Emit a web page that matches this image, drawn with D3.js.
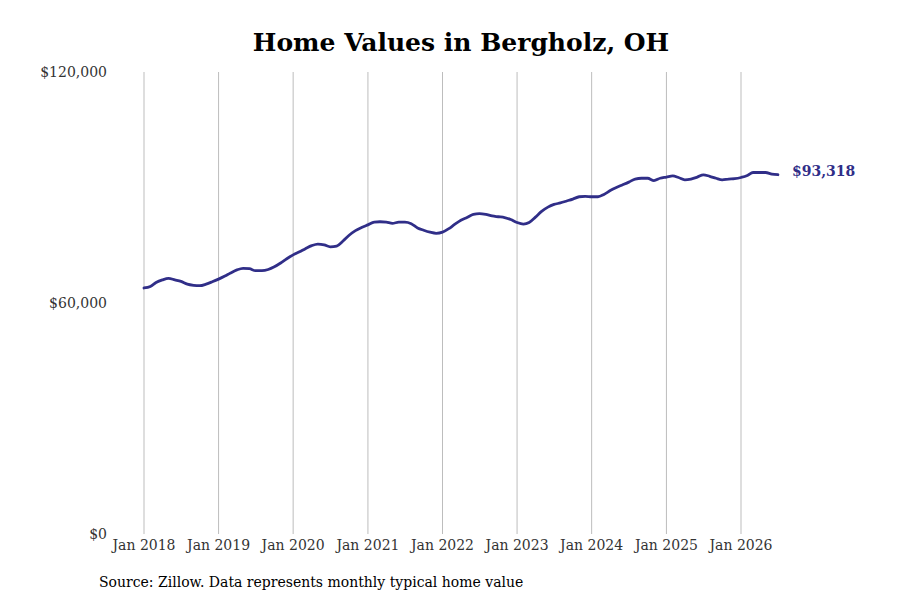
<!DOCTYPE html>
<html>
<head>
<meta charset="utf-8">
<script src="https://cdn.jsdelivr.net/npm/d3@7"></script>
<style>
  body { margin: 0; background: #fff; }
  svg { display: block; }
</style>
</head>
<body>
<svg id="chart" width="900" height="600"></svg>
<script>
// Monthly typical home value (thousands of USD), Jan 2018 – Jul 2026
const startYear = 2018;
const values = [
  63.9, 64.3, 65.3, 66.0, 66.4, 66.0, 65.6, 64.9, 64.6, 64.5, 64.9, 65.5,
  66.2, 67.0, 67.8, 68.6, 69.0, 68.9, 68.4, 68.4, 68.7, 69.4, 70.4, 71.5,
  72.5, 73.3, 74.1, 74.9, 75.3, 75.1, 74.6, 74.8, 76.1, 77.6, 78.8, 79.6,
  80.3, 81.0, 81.1, 81.0, 80.7, 81.0, 81.0, 80.6, 79.5, 78.9, 78.4, 78.1,
  78.4, 79.3, 80.4, 81.5, 82.2, 83.0, 83.2, 83.0, 82.6, 82.4, 82.2, 81.7,
  80.9, 80.5, 80.9, 82.3, 83.8, 84.9, 85.6, 86.0, 86.5, 87.0, 87.6, 87.7,
  87.6, 87.6, 88.2, 89.2, 90.0, 90.7, 91.4, 92.2, 92.4, 92.4, 91.8, 92.4,
  92.7, 93.0, 92.6, 92.0, 92.2, 92.7, 93.3, 92.9, 92.4, 92.0, 92.2, 92.3,
  92.6, 93.1, 93.9, 93.9, 93.9, 93.5, 93.318
];
const xTickYears = [2018, 2019, 2020, 2021, 2022, 2023, 2024, 2025, 2026];
const yTicks = [0, 60000, 120000];
const lastLabel = "$93,318";
const title = "Home Values in Bergholz, OH";
const source = "Source: Zillow. Data represents monthly typical home value";

const data = values.map((v, i) => ({
  date: new Date(startYear, i, 1),
  value: v * 1000
}));

const svg = d3.select("#chart");
const font = "'DejaVu Serif', serif";
const lineColor = "#302e88";

const x = d3.scaleTime()
  .domain([new Date(2018, 0, 1), new Date(2026, 0, 1)])
  .range([144, 741]);
const y = d3.scaleLinear().domain([0, 120000]).range([534, 72]);

// vertical gridlines
svg.append("g")
  .selectAll("line")
  .data(xTickYears)
  .join("line")
  .attr("x1", d => x(new Date(d, 0, 1)))
  .attr("x2", d => x(new Date(d, 0, 1)))
  .attr("y1", y(120000))
  .attr("y2", y(0))
  .attr("stroke", "#bdbdbd")
  .attr("stroke-width", 1);

// x labels
svg.append("g")
  .selectAll("text")
  .data(xTickYears)
  .join("text")
  .attr("x", d => x(new Date(d, 0, 1)))
  .attr("y", 550)
  .attr("text-anchor", "middle")
  .attr("font-family", font)
  .attr("font-size", 14)
  .attr("fill", "#333")
  .text(d => "Jan " + d);

// y labels
const fmt = d3.format("$,");
svg.append("g")
  .selectAll("text")
  .data(yTicks)
  .join("text")
  .attr("x", 107)
  .attr("y", d => y(d) + 5)
  .attr("text-anchor", "end")
  .attr("font-family", font)
  .attr("font-size", 14)
  .attr("fill", "#333")
  .text(d => fmt(d));

// line
const line = d3.line()
  .x(d => x(d.date))
  .y(d => y(d.value))
  .curve(d3.curveMonotoneX);

svg.append("path")
  .datum(data)
  .attr("fill", "none")
  .attr("stroke", lineColor)
  .attr("stroke-width", 2.8)
  .attr("stroke-linejoin", "round")
  .attr("stroke-linecap", "round")
  .attr("d", line);

// end label
const last = data[data.length - 1];
svg.append("text")
  .attr("x", x(last.date) + 14)
  .attr("y", y(last.value) - 4)
  .attr("dy", "0.35em")
  .attr("font-family", font)
  .attr("font-size", 14)
  .attr("font-weight", "bold")
  .attr("fill", lineColor)
  .text(lastLabel);

// title
svg.append("text")
  .attr("x", 461)
  .attr("y", 51)
  .attr("text-anchor", "middle")
  .attr("font-family", font)
  .attr("font-size", 25)
  .attr("font-weight", "bold")
  .attr("fill", "#000")
  .text(title);

// source
svg.append("text")
  .attr("x", 99)
  .attr("y", 587)
  .attr("font-family", font)
  .attr("font-size", 14)
  .attr("fill", "#000")
  .text(source);
</script>
</body>
</html>
